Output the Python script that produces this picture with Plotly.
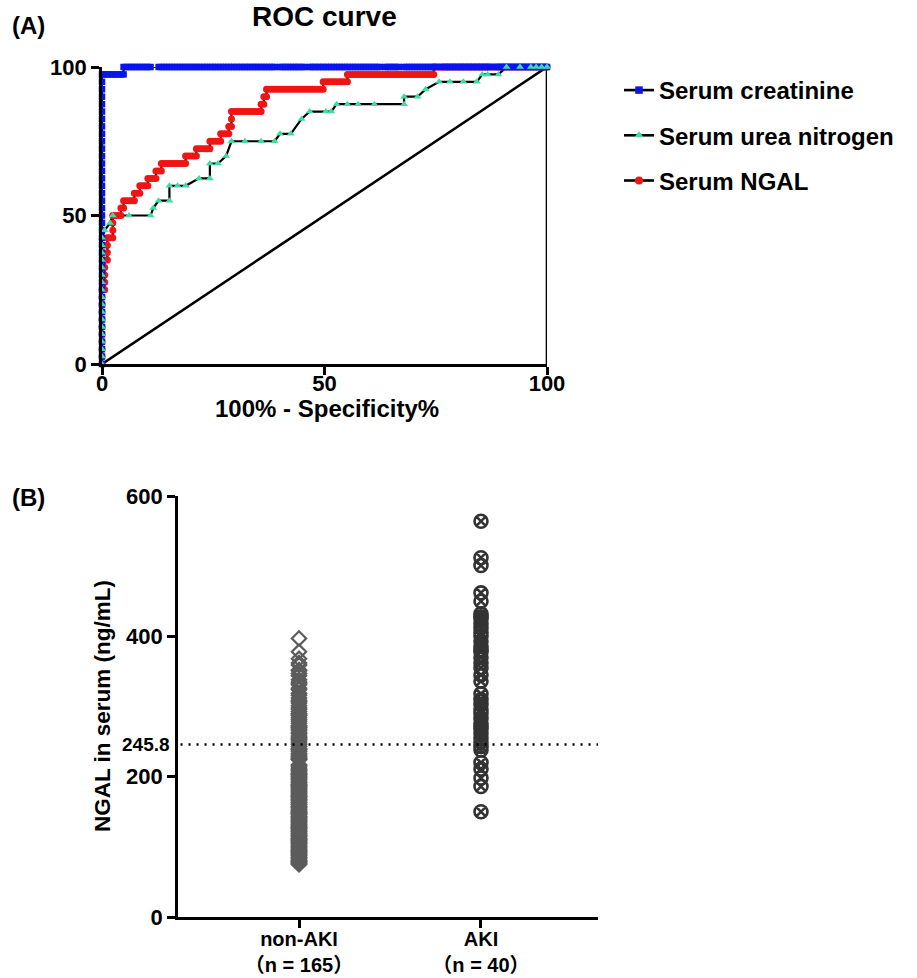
import plotly.graph_objects as go

W, H = 917, 978

# ---------------- Panel A : ROC data ----------------
# points are (false-positive count of 165 non-AKI, true-positive count of 40 AKI)
N_NEG = 165
N_POS = 40

creatinine_roc = [
    (0,0),(0,1),(0,2),(0,3),(0,4),(0,5),(0,6),(0,7),(0,8),(0,9),
    (0,10),(0,11),(0,12),(0,13),(0,14),(0,15),(0,16),(0,17),(0,18),(0,19),
    (0,20),(0,21),(0,22),(0,23),(0,24),(0,25),(0,26),(0,27),(0,28),(0,29),
    (0,30),(0,31),(0,32),(0,33),(0,34),(0,35),(0,36),(0,37),(0,38),(0,39),
    (1,39),(2,39),(3,39),(4,39),(5,39),(6,39),(7,39),(8,39),
    (8,40),(9,40),(10,40),(11,40),(12,40),(13,40),(14,40),(15,40),(16,40),(17,40),
    (18,40),(21,40),(22,40),(23,40),(24,40),(25,40),(26,40),(27,40),(28,40),(29,40),
    (30,40),(31,40),(32,40),(33,40),(34,40),(35,40),(36,40),(37,40),(38,40),(39,40),
    (40,40),(41,40),(42,40),(43,40),(44,40),(45,40),(46,40),(47,40),(48,40),(49,40),
    (50,40),(51,40),(52,40),(53,40),(54,40),(55,40),(56,40),(57,40),(58,40),(59,40),
    (60,40),(61,40),(62,40),(63,40),(64,40),(66,40),(67,40),(68,40),(69,40),
    (70,40),(71,40),(72,40),(73,40),(74,40),(75,40),(77,40),(78,40),(79,40),
    (80,40),(81,40),(82,40),(83,40),(84,40),(85,40),(86,40),(87,40),(88,40),(89,40),
    (90,40),(91,40),(92,40),(93,40),(94,40),(95,40),(96,40),(97,40),(98,40),(99,40),
    (100,40),(101,40),(102,40),(103,40),(105,40),(106,40),(107,40),(108,40),(109,40),(110,40),
    (112,40),(113,40),(114,40),(115,40),(116,40),(117,40),(118,40),(119,40),
    (120,40),(121,40),(122,40),(123,40),(124,40),(126,40),(127,40),(128,40),(129,40),
    (130,40),(131,40),(132,40),(133,40),(134,40),(135,40),(136,40),(137,40),(138,40),(139,40),
    (140,40),(141,40),(142,40),(143,40),(144,40),(146,40),(147,40),(148,40),(149,40),
    (150,40),(151,40),(152,40),(153,40),(154,40),(155,40),(156,40),(157,40),(158,40),(159,40),
    (160,40),(161,40),(162,40),(163,40),(164,40),(165,40),
]

urea_roc = [
    (0,0),(0,1),(0,2),(0,3),(0,4),(0,5),(0,6),(0,7),(0,8),(0,9),
    (0,10),(0,11),(0,12),(0,13),(0,14),(0,15),(0,16),(0,17),
    (1,18),(3,19),(4,20),(10,20),(18,20),(19,21),(21,22),(25,22),(25,24),
    (28,24),(31,24),(36,25),(40,25),(40,27),(43,27),(46,28),(48,30),
    (53,30),(59,30),(64,30),(66,31),(70,31),(74,33),(77,34),(83,34),(85,34),
    (87,35),(91,35),(95,35),(101,35),(112,35),(112,36),(117,36),(120,37),
    (125,38),(129,38),(134,38),(139,38),(141,39),(143,39),(147,39),
    (150,40),(155,40),(159,40),(161,40),(163,40),(165,40),
]

ngal_roc = [
    (0,0),(0,1),(0,2),(0,3),(0,4),(0,5),(0,6),(0,7),(0,8),(0,9),(0,10),
    (1,10),(1,11),(1,12),(1,13),(1,14),
    (2,14),(2,15),(2,16),(2,17),
    (3,17),(4,17),(4,18),(4,19),(4,20),
    (5,20),(6,20),(7,20),(7,21),(8,21),(8,22),
    (9,22),(10,22),(11,22),(12,22),(12,23),(13,23),(14,23),(14,24),
    (15,24),(16,24),(17,24),(17,25),(18,25),(19,25),(20,25),(20,26),
    (21,26),(22,26),(22,27),(23,27),(24,27),(25,27),(26,27),(27,27),(28,27),(29,27),(30,27),(31,27),
    (31,28),(32,28),(33,28),(34,28),(35,28),(35,29),
    (36,29),(37,29),(38,29),(39,29),(40,29),(40,30),
    (41,30),(42,30),(43,30),(44,30),(44,31),(45,31),(46,31),(47,31),(47,32),(48,32),(48,33),(48,34),
    (49,34),(50,34),(51,34),(52,34),(53,34),(54,34),(55,34),(56,34),(57,34),(58,34),(59,34),
    (59,35),(60,35),(60,36),(61,36),(61,37),
    (62,37),(63,37),(64,37),(65,37),(66,37),(67,37),(68,37),(69,37),(70,37),(71,37),
    (72,37),(73,37),(74,37),(75,37),(76,37),(77,37),(78,37),(79,37),(80,37),(81,37),(82,37),
    (82,38),(83,38),(84,38),(85,38),(86,38),(87,38),(88,38),(89,38),(90,38),(91,38),
    (91,39),(92,39),(93,39),(94,39),(95,39),(96,39),(97,39),(98,39),(99,39),(100,39),
    (101,39),(102,39),(103,39),(104,39),(105,39),(106,39),(107,39),(108,39),(109,39),(110,39),
    (111,39),(112,39),(113,39),(114,39),(115,39),(116,39),(117,39),(118,39),(119,39),(120,39),
    (121,39),(122,39),(123,39),
    (123,40),(124,40),(125,40),(126,40),(127,40),(128,40),(129,40),(130,40),(131,40),(132,40),
    (133,40),(134,40),(135,40),(136,40),(137,40),(138,40),(139,40),(140,40),(141,40),(142,40),
    (143,40),(144,40),(145,40),(146,40),(147,40),(148,40),(149,40),(150,40),(151,40),(152,40),
    (153,40),(154,40),(155,40),(156,40),(157,40),(158,40),(159,40),(160,40),(161,40),(162,40),
    (163,40),(164,40),(165,40),
]

series_names = ["Serum creatinine", "Serum urea nitrogen", "Serum NGAL"]
roc_ticks = [0, 50, 100]
ref_x = [0, 100, 100]
ref_y = [0, 100, 0]

# ---------------- Panel B : scatter data ----------------
categories = ["non-AKI", "AKI"]
category_labels = ["non-AKI<br>（n = 165）", "AKI<br>（n = 40）"]

ngal_non_aki = [
    397, 378, 368, 362, 359, 351, 347, 344, 338, 335, 331, 326, 324, 319, 316,
    312, 309, 305, 301, 298, 296, 293, 290, 287, 284, 281, 279, 276, 273, 271,
    268, 266, 263, 261, 258, 256, 253, 251, 248, 246, 243, 240, 238, 236, 233,
    231, 229, 227, 225, 224, 217, 216, 214, 212, 210, 209, 207, 205, 204, 202,
    200, 199, 197, 196, 194, 192, 191, 189, 188, 186, 185, 183, 182, 180, 179,
    177, 176, 174, 173, 171, 170, 168, 167, 166, 164, 163, 161, 160, 158, 157,
    156, 154, 153, 151, 150, 149, 147, 146, 144, 143, 142, 140, 139, 137, 136,
    135, 133, 132, 130, 129, 128, 126, 125, 123, 122, 121, 119, 118, 116, 115,
    114, 112, 111, 109, 108, 106, 105, 104, 102, 101, 99, 98, 96, 95, 94,
    92, 91, 89, 88, 87, 85, 84, 83, 81, 80, 79, 78, 77, 76, 75,
    352, 333, 307, 289, 270, 254, 239, 226, 203, 187, 172, 148, 127, 110, 93,
]
ngal_aki = [
    564, 512, 501, 462, 450,
    432, 428, 425, 418, 412, 405, 400, 393, 386, 381, 378, 370, 362, 355, 345, 336,
    318, 310, 303, 296, 290, 283, 276, 272, 268, 262, 255, 249, 243, 238,
    220, 211, 198, 186, 150,
]
cutoff = 245.8
b_ticks = [0, 200, 400, 600]

# ---------------- figure ----------------
FONT = "Arial, 'Liberation Sans', 'Noto Sans CJK SC', sans-serif"
BLUE = "#0a14f0"
TEAL = "#3fdca2"
RED = "#f01414"


def to_pct(points):
    xs = [100.0 * fp / N_NEG for fp, tp in points]
    ys = [100.0 * tp / N_POS for fp, tp in points]
    return xs, ys


cr_x, cr_y = to_pct(creatinine_roc)
ur_x, ur_y = to_pct(urea_roc)
ng_x, ng_y = to_pct(ngal_roc)

fig = go.Figure()

# reference line
fig.add_trace(go.Scatter(x=ref_x, y=ref_y, mode="lines", line=dict(color="black", width=2.6),
                         showlegend=False, hoverinfo="skip", cliponaxis=False))
# black connecting lines (drawn below all symbols)
for xs, ys in [(ng_x, ng_y), (cr_x, cr_y), (ur_x, ur_y)]:
    fig.add_trace(go.Scatter(x=xs, y=ys, mode="lines", line=dict(color="black", width=2.2),
                             showlegend=False, cliponaxis=False))

mk = {
    "Serum creatinine": dict(symbol="square", color=BLUE, size=6.5),
    "Serum urea nitrogen": dict(symbol="triangle-up", color=TEAL, size=7),
    "Serum NGAL": dict(symbol="circle", color=RED, size=7),
}
for name, xs, ys in [("Serum NGAL", ng_x, ng_y), ("Serum creatinine", cr_x, cr_y),
                     ("Serum urea nitrogen", ur_x, ur_y)]:
    fig.add_trace(go.Scatter(x=xs, y=ys, mode="markers",
                             marker=dict(symbol=mk[name]["symbol"], color=mk[name]["color"],
                                         size=mk[name]["size"], line=dict(width=0)),
                             showlegend=False, cliponaxis=False))

# legend entries
for i, name in enumerate(series_names):
    fig.add_trace(go.Scatter(x=[None], y=[None], mode="lines+markers", name=name,
                             legendgroup=name, legendrank=i + 1,
                             line=dict(color="black", width=2.6),
                             marker=dict(symbol=mk[name]["symbol"], color=mk[name]["color"],
                                         size=mk[name]["size"] + 1, line=dict(width=0))))

# Panel B points
fig.add_trace(go.Scatter(x=[categories[0]] * len(ngal_non_aki), y=ngal_non_aki, mode="markers",
                         marker=dict(symbol="diamond-open", color="#5c5c5c", size=11,
                                     line=dict(width=2.2)),
                         xaxis="x2", yaxis="y2", showlegend=False, cliponaxis=False))
fig.add_trace(go.Scatter(x=[categories[1]] * len(ngal_aki), y=ngal_aki, mode="markers",
                         marker=dict(symbol="circle-x-open", color="#333333", size=13,
                                     line=dict(width=2.6)),
                         xaxis="x2", yaxis="y2", showlegend=False, cliponaxis=False))


def px_x(p):
    return p / W


def px_y(p):
    return 1 - p / H


def axis_common(size, standoff=0):
    return dict(showline=True, linecolor="black", linewidth=2.6, ticks="outside",
                ticklen=8, tickwidth=2.6, tickcolor="black", showgrid=False, zeroline=False,
                automargin=False, ticklabelstandoff=standoff,
                tickfont=dict(family=FONT, size=size, color="black", weight="bold"))


fig.update_layout(
    width=W, height=H,
    margin=dict(l=0, r=0, t=0, b=0, autoexpand=False),
    paper_bgcolor="white", plot_bgcolor="white",
    font=dict(family=FONT, color="black"),
    xaxis=dict(domain=[px_x(102), px_x(547)], range=[0, 100], tickvals=roc_ticks,
               anchor="y", **axis_common(22, -10)),
    yaxis=dict(domain=[px_y(364), px_y(67)], range=[0, 100], tickvals=roc_ticks,
               anchor="x", **axis_common(22)),
    xaxis2=dict(domain=[px_x(178), px_x(598)], type="category", categoryarray=categories,
                range=[-0.665, 1.643], tickvals=categories, ticktext=category_labels,
                anchor="y2", **axis_common(20, -6)),
    yaxis2=dict(domain=[px_y(917), px_y(496)], range=[0, 600], tickvals=b_ticks,
                anchor="x2", **axis_common(22)),
    showlegend=True,
    legend=dict(x=px_x(619), y=px_y(68), xanchor="left", yanchor="top",
                traceorder="grouped", tracegroupgap=11,
                font=dict(family=FONT, size=24, color="black", weight="bold"),
                bgcolor="rgba(0,0,0,0)"),
)


def bold(s):
    return dict(family=FONT, size=s, color="black", weight="bold")


fig.add_annotation(text="(A)", x=px_x(10), y=px_y(25), xref="paper", yref="paper",
                   xanchor="left", yanchor="middle", showarrow=False, font=bold(24))
fig.add_annotation(text="ROC curve", x=px_x(324), y=px_y(17), xref="paper", yref="paper",
                   xanchor="center", yanchor="middle", showarrow=False, font=bold(28))
fig.add_annotation(text="100% - Specificity%", x=px_x(327), y=px_y(409), xref="paper",
                   yref="paper", xanchor="center", yanchor="middle", showarrow=False,
                   font=bold(24))
fig.add_annotation(text="(B)", x=px_x(10), y=px_y(497), xref="paper", yref="paper",
                   xanchor="left", yanchor="middle", showarrow=False, font=bold(24))
fig.add_annotation(text="NGAL in serum (ng/mL)", x=px_x(102), y=px_y(706), xref="paper",
                   yref="paper", xanchor="center", yanchor="middle", textangle=-90,
                   showarrow=False, font=bold(22.5))
fig.add_annotation(text=str(cutoff), x=0, y=cutoff, xref="x2 domain", yref="y2",
                   xanchor="right", yanchor="middle", xshift=-6, showarrow=False,
                   font=bold(19))
fig.add_shape(type="line", xref="x2 domain", yref="y2", x0=0.006, x1=1, y0=cutoff, y1=cutoff,
              line=dict(color="black", width=2.6, dash="2px,6px"))

fig.write_html("out.html", config={"displayModeBar": False},
               post_script="document.body.style.margin='0';")
